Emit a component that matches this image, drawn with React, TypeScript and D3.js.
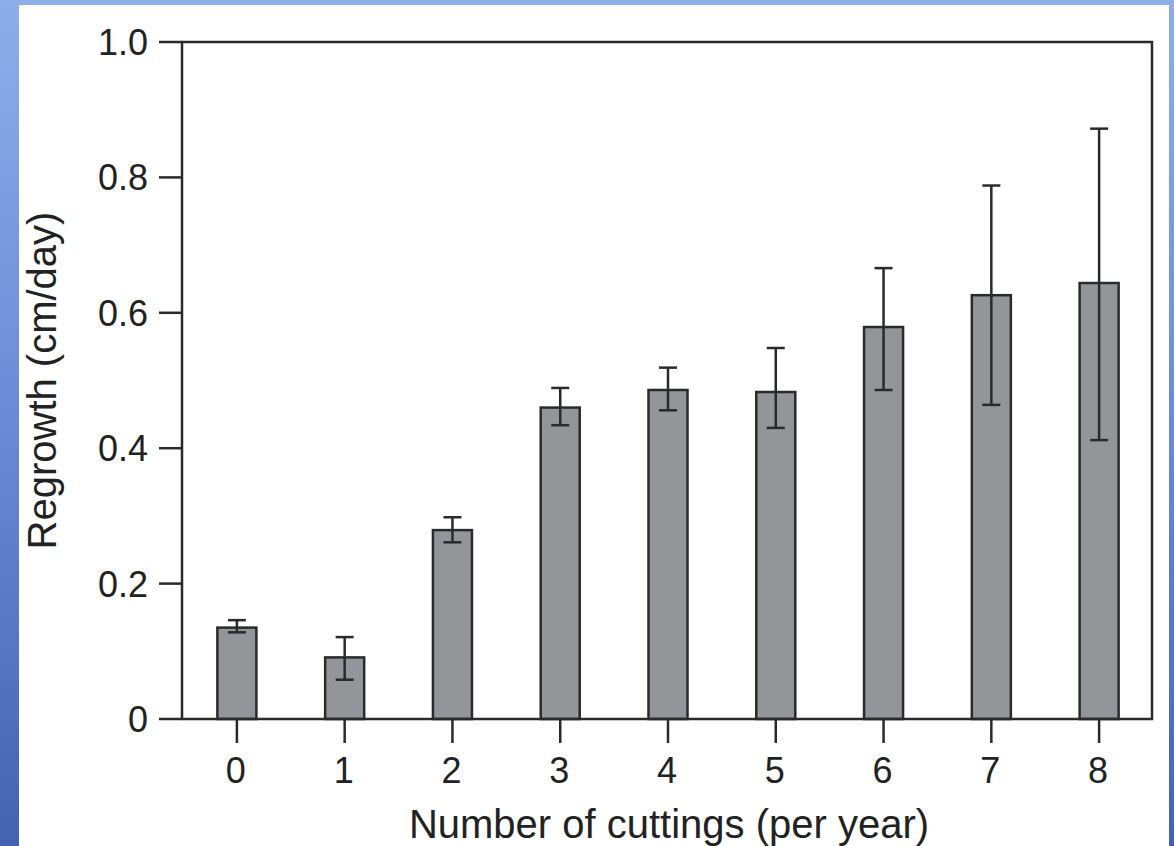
import React from 'react';
import * as d3 from 'd3';

// Regrowth after repeated cutting: mean bar with upper / lower error limits
const categories = ['0', '1', '2', '3', '4', '5', '6', '7', '8'];
const regrowth = [0.135, 0.091, 0.279, 0.46, 0.486, 0.483, 0.579, 0.626, 0.644];
const errUpper = [0.146, 0.121, 0.298, 0.489, 0.519, 0.548, 0.666, 0.788, 0.872];
const errLower = [0.128, 0.058, 0.261, 0.434, 0.456, 0.43, 0.486, 0.464, 0.412];
const yTicks = [0, 0.2, 0.4, 0.6, 0.8, 1.0];
const yTickLabels = ['0', '0.2', '0.4', '0.6', '0.8', '1.0'];

const W = 1174;
const H = 846;
const plot = { left: 182, right: 1152, top: 42, bottom: 719 };
const ink = '#2a2a2a';
const font = '"Liberation Sans", Arial, Helvetica, sans-serif';

export default function App() {
  const x = d3
    .scaleBand<string>()
    .domain(categories)
    .range([plot.left + 1, plot.right + 1])
    .paddingInner(0.638)
    .paddingOuter(0.319);
  const y = d3.scaleLinear().domain([0, 1]).range([plot.bottom, plot.top]);
  const bw = x.bandwidth();
  const cap = 9;

  return (
    <svg
      width={W}
      height={H}
      style={{ position: 'absolute', left: 0, top: 0, display: 'block' }}
    >
      <defs>
        <linearGradient id="frameBg" x1="0" y1="0" x2="0" y2="1">
          <stop offset="0" stopColor="#8eaeea" />
          <stop offset="0.5" stopColor="#6a8ad6" />
          <stop offset="1" stopColor="#4462b0" />
        </linearGradient>
      </defs>
      <rect x={0} y={0} width={W} height={H} fill="url(#frameBg)" />
      <rect x={19} y={5} width={1150} height={H - 5} fill="#ffffff" />

      {/* bars */}
      {categories.map((c, i) => (
        <rect
          key={'b' + c}
          x={x(c)}
          y={y(regrowth[i])}
          width={bw}
          height={y(0) - y(regrowth[i])}
          fill="#939598"
          stroke={ink}
          strokeWidth={2.5}
        />
      ))}

      {/* error bars */}
      {categories.map((c, i) => {
        const cx = (x(c) as number) + bw / 2;
        return (
          <g key={'e' + c} stroke={ink} strokeWidth={2.5}>
            <line x1={cx} x2={cx} y1={y(errUpper[i])} y2={y(errLower[i])} />
            <line x1={cx - cap} x2={cx + cap} y1={y(errUpper[i])} y2={y(errUpper[i])} />
            <line x1={cx - cap} x2={cx + cap} y1={y(errLower[i])} y2={y(errLower[i])} />
          </g>
        );
      })}

      {/* frame */}
      <rect
        x={plot.left}
        y={plot.top}
        width={plot.right - plot.left}
        height={plot.bottom - plot.top}
        fill="none"
        stroke={ink}
        strokeWidth={2.5}
      />

      {/* y axis ticks */}
      {yTicks.map((t, i) => (
        <g key={'y' + t}>
          <line x1={plot.left - 23} x2={plot.left} y1={y(t)} y2={y(t)} stroke={ink} strokeWidth={2.5} />
          <text
            x={148}
            y={y(t)}
            dy="0.36em"
            textAnchor="end"
            fontFamily={font}
            fontSize={36}
            fill="#222"
          >
            {yTickLabels[i]}
          </text>
        </g>
      ))}

      {/* x axis ticks */}
      {categories.map((c) => {
        const cx = (x(c) as number) + bw / 2;
        return (
          <g key={'x' + c}>
            <line x1={cx} x2={cx} y1={plot.bottom} y2={plot.bottom + 24} stroke={ink} strokeWidth={2.5} />
            <text x={cx - 1} y={783} textAnchor="middle" fontFamily={font} fontSize={36} fill="#222">
              {c}
            </text>
          </g>
        );
      })}

      {/* axis titles */}
      <text
        x={669}
        y={838}
        textAnchor="middle"
        fontFamily={font}
        fontSize={40}
        fill="#222"
      >
        Number of cuttings (per year)
      </text>
      <text
        transform={`translate(56,${(plot.top + plot.bottom) / 2}) rotate(-90)`}
        textAnchor="middle"
        fontFamily={font}
        fontSize={40}
        fill="#222"
      >
        Regrowth (cm/day)
      </text>
    </svg>
  );
}
